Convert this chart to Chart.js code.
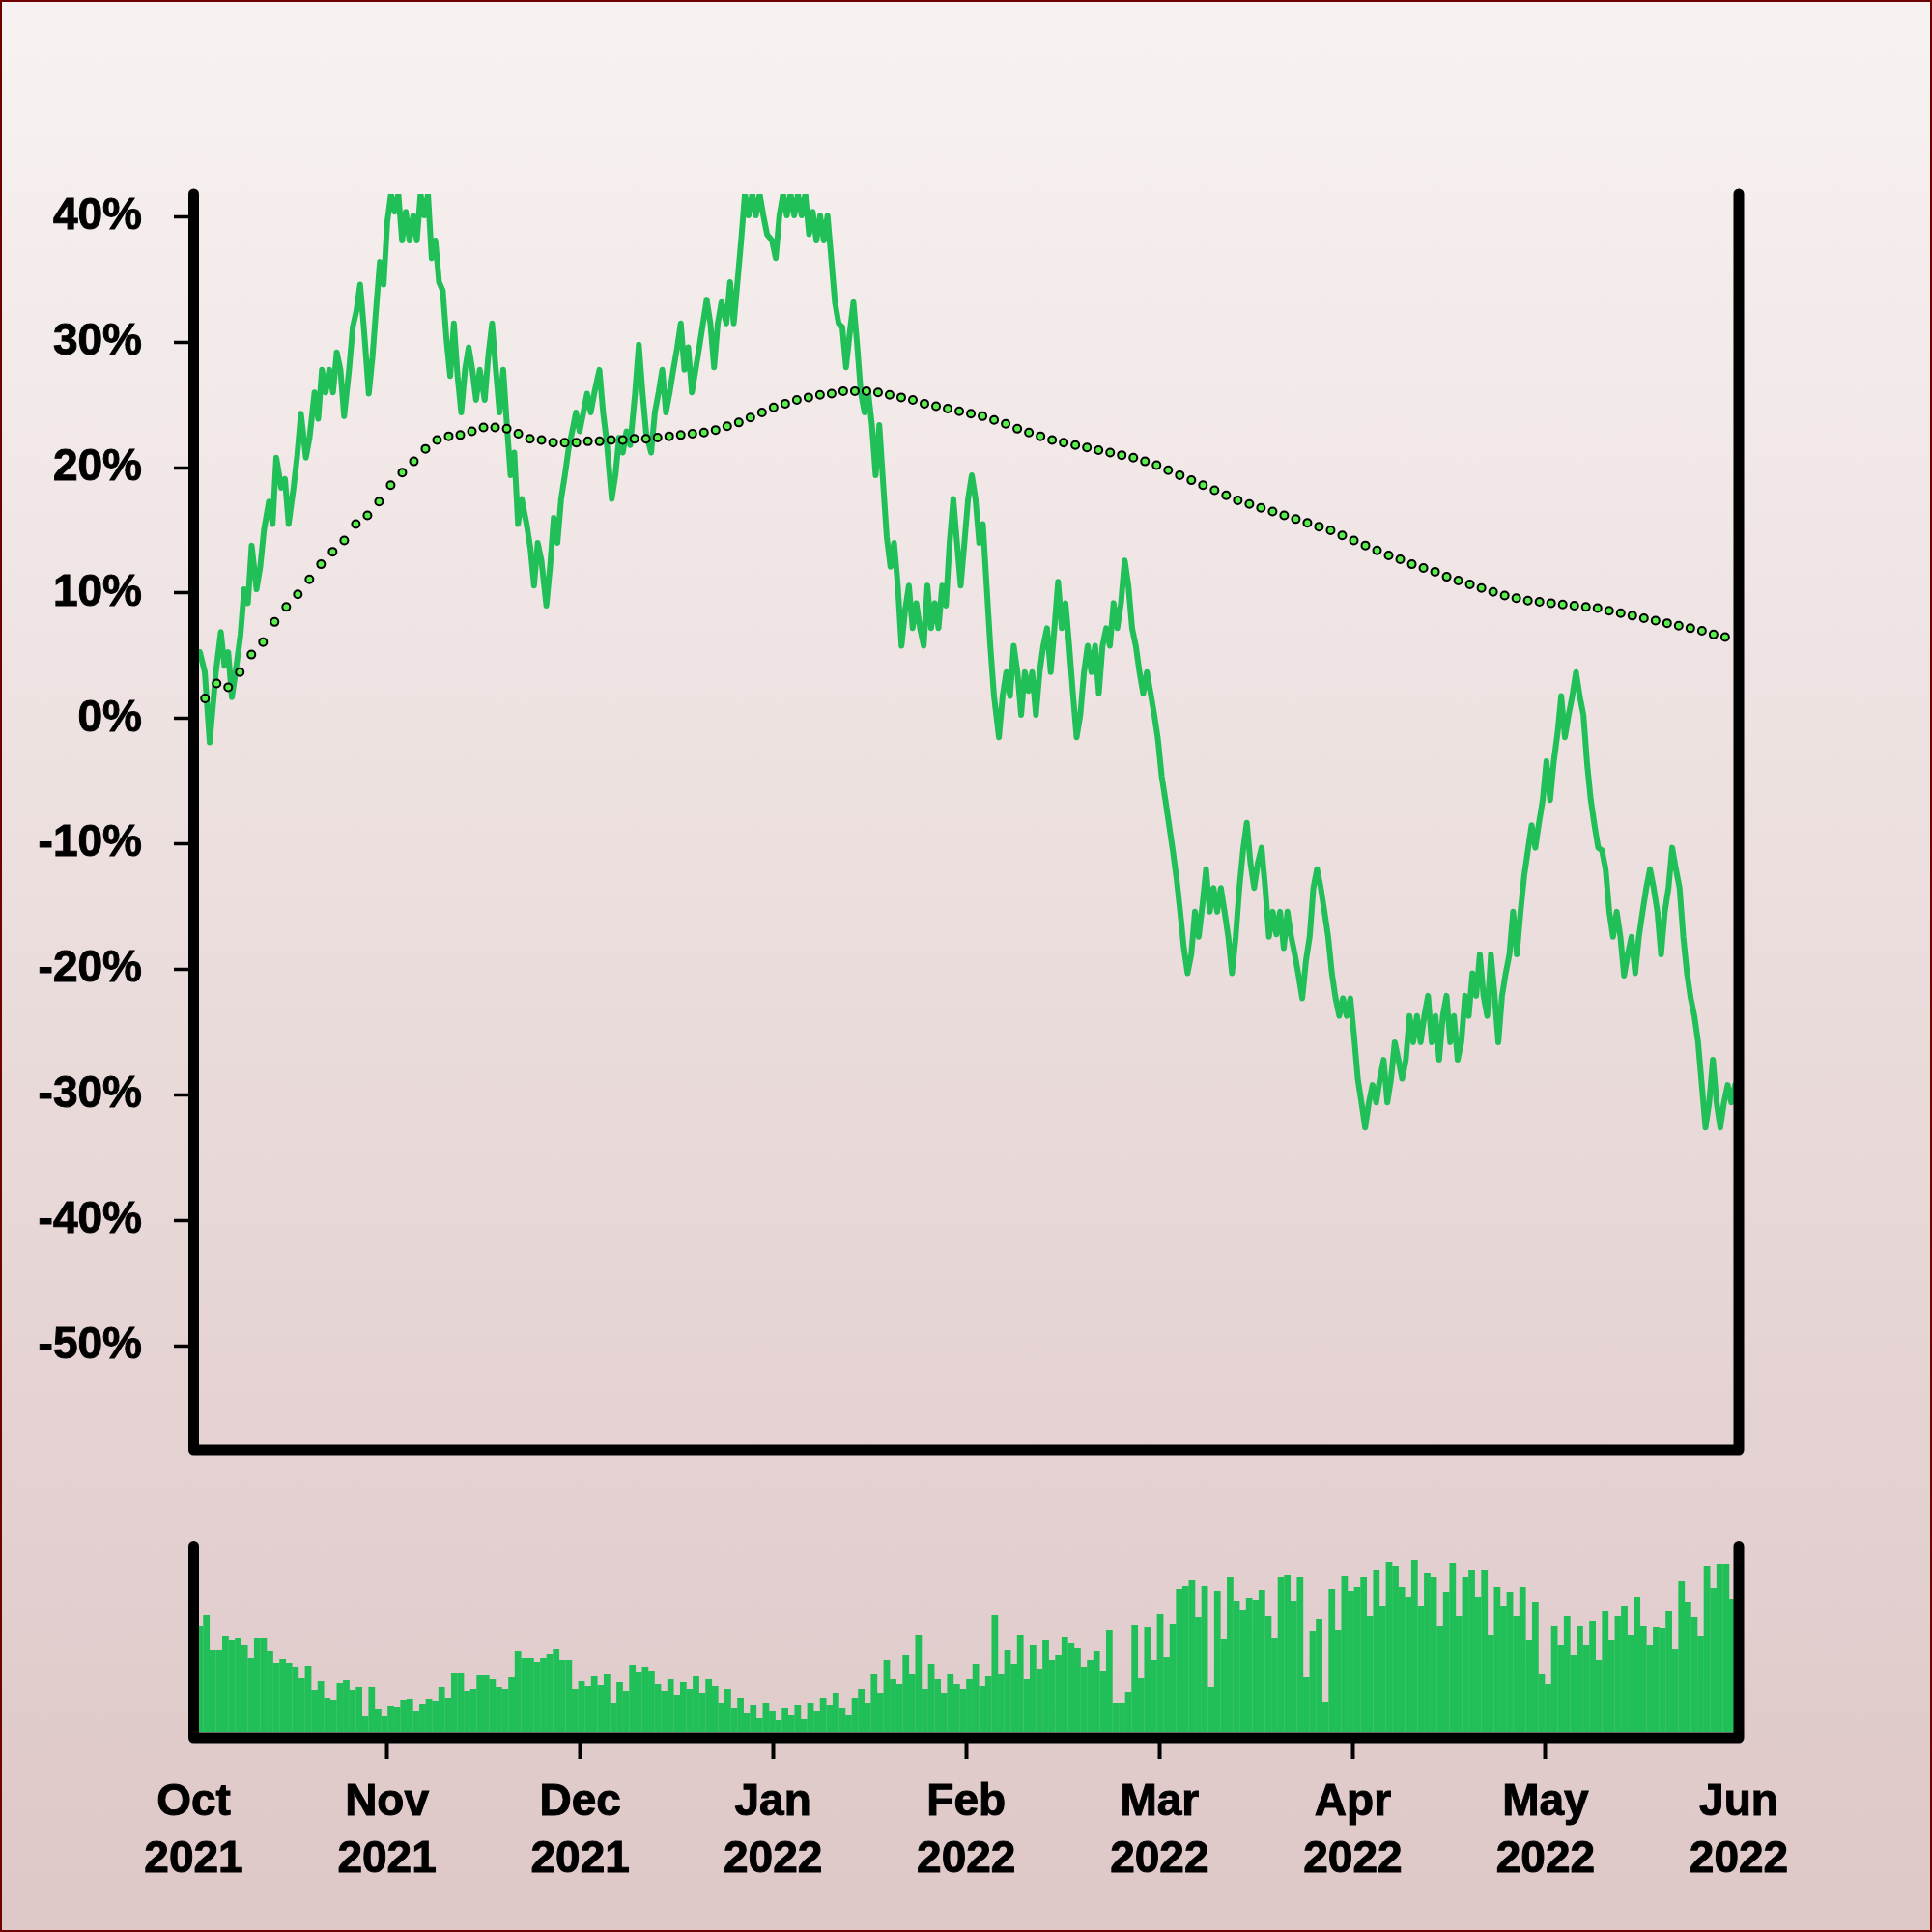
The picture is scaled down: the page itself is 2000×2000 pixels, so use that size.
<!DOCTYPE html>
<html>
<head>
<meta charset="utf-8">
<script src="https://cdn.jsdelivr.net/npm/chart.js@4.4.1/dist/chart.umd.min.js"></script>
<style>
  html, body { margin: 0; padding: 0; }
  #wrap {
    position: relative; width: 2000px; height: 2000px;
    background: linear-gradient(to bottom, #f7f2f1, #dec7c7);
  }
  #wrap canvas { position: absolute; left: 0; top: 0; }
  #frame {
    position: absolute; left: 0; top: 0; width: 2000px; height: 2000px;
    box-sizing: border-box; border: 2px solid #6e0000; pointer-events: none;
  }
</style>
</head>
<body>
<div id="wrap">
  <canvas id="priceChart" width="2000" height="2000"></canvas>
  <canvas id="volChart" width="2000" height="2000"></canvas>
  <div id="frame"></div>
</div>
<script>
// x is in days counted from 1 Oct 2021; axis ticks are evenly spaced
const tickDays = [0, 30.4, 60.8, 91.1, 121.5, 151.9, 182.3, 212.6, 243];
const tickLabels = [['Oct', '2021'], ['Nov', '2021'], ['Dec', '2021'], ['Jan', '2022'],
  ['Feb', '2022'], ['Mar', '2022'], ['Apr', '2022'], ['May', '2022'], ['Jun', '2022']];
const yTicks = [-50, -40, -30, -20, -10, 0, 10, 20, 30, 40];

// days of the return samples: first ones listed, the rest in evenly spaced runs
const lineDaysHead = [
  0.97,1.75,2.52,3.49,4.27,4.85,5.43,6.01,6.59,7.37,
  7.95,8.53,9.12,9.89,10.47,11.05,11.83,12.41,12.99,13.77,
  14.35,14.93,15.71,16.29,16.87,17.65,18.23,19.01,19.59,20.17,
  20.75,21.33,21.91,22.50,23.08,23.66,24.44,25.02,25.60,26.18,
  26.76,27.54,28.12,28.70,29.28,29.87,30.45,31.03,31.61,32.19,
  32.78,33.36,33.94,34.52,35.10,35.68,36.27,36.85,37.43,38.01,
  38.59,39.18,39.76,40.34,40.92,41.50,42.08,42.67,43.25,43.83,
  44.41,44.99,45.77,46.35,46.93,47.52,48.10,48.68,49.26,49.84,
  50.42,51.01,51.59,52.36,52.95,53.53,54.11,54.69,55.47,56.05,
  56.63,57.21,57.79,58.38,58.96,59.54,60.12,60.70,61.29,61.87,
  62.45,63.03,63.81,64.39,64.97,65.75,66.33,66.91,67.49,68.07,
  68.65,69.43,70.01,70.59,71.18,71.95,72.53,73.12,73.70,74.28,
  74.86,75.44,76.02,76.61
];
const lineDayRuns = [[77.19, 11], [83.78, 1], [84.36, 11], [90.96, 1], [91.54, 60], [126.64, 200]];
const runStepDays = 0.5818;

// return in %
const returns = [
  5.3,3.7,-1.9,3.7,6.9,4.2,5.3,1.7,3.7,6.7,
  10.3,9.2,13.8,10.3,12.1,15.0,17.3,15.5,20.8,18.4,
  19.1,15.5,18.4,21.0,24.3,20.8,22.4,26.0,23.9,27.8,
  26.0,27.8,26.0,29.2,27.8,24.1,27.8,31.2,32.5,34.6,
  31.2,25.9,28.8,32.7,36.4,34.6,39.6,41.8,40.4,41.8,
  38.1,40.4,38.1,40.1,38.1,41.8,40.1,41.8,36.7,38.1,
  34.8,34.1,30.2,27.3,31.5,27.3,24.4,27.8,29.6,27.8,
  25.4,27.8,25.4,29.0,31.5,27.8,24.4,27.8,23.4,19.4,
  21.2,15.5,17.5,15.5,13.6,10.6,14.0,12.6,9.0,12.1,
  16.0,14.0,17.5,19.4,21.5,22.9,24.4,22.9,24.4,25.9,
  24.4,26.0,27.8,24.4,22.0,17.5,19.4,22.4,21.2,22.9,
  21.8,26.0,29.8,26.0,22.7,21.2,24.4,26.0,27.8,24.4,
  26.0,27.8,29.5,31.5,27.8,29.6,26.0,27.8,29.6,31.5,
  33.4,31.5,28.0,31.5,33.2,31.5,34.8,31.5,34.8,38.1,
  41.8,40.1,41.8,40.1,41.8,40.1,38.6,38.1,36.7,40.1,
  41.8,40.1,41.8,40.1,41.8,40.1,41.8,38.6,40.4,38.1,
  40.1,38.1,40.1,36.7,33.2,31.5,31.2,28.0,30.7,33.2,
  29.8,26.0,24.4,26.0,23.4,19.4,23.4,18.9,14.5,12.1,
  14.0,10.6,5.8,8.7,10.6,7.2,9.2,7.2,5.8,10.6,
  7.2,9.2,7.2,10.6,9.0,14.0,17.5,14.0,10.6,14.0,
  17.5,19.4,17.5,14.0,15.5,10.6,5.8,1.8,-1.5,1.8,
  3.7,1.8,5.8,3.7,0.3,3.7,2.2,3.7,0.3,3.7,
  5.8,7.2,3.7,7.2,10.9,7.2,9.2,5.8,2.0,-1.5,
  0.3,3.7,5.8,3.7,5.8,2.0,5.8,7.2,5.8,9.2,
  7.2,9.2,12.6,10.6,7.2,5.8,3.7,2.0,3.7,2.0,
  0.3,-1.7,-4.6,-6.5,-8.5,-10.5,-12.7,-15.4,-18.3,-20.3,
  -18.8,-15.4,-17.4,-14.9,-12.0,-15.4,-13.5,-15.4,-13.5,-15.4,
  -17.4,-20.3,-17.4,-13.5,-10.5,-8.3,-11.5,-13.5,-11.5,-10.3,
  -13.5,-17.4,-15.4,-17.2,-15.4,-18.3,-15.4,-17.4,-18.8,-20.5,
  -22.3,-19.3,-17.4,-13.5,-12.0,-13.5,-15.4,-17.4,-20.3,-22.3,
  -23.7,-22.3,-23.7,-22.3,-25.3,-28.7,-30.6,-32.6,-30.6,-29.2,
  -30.6,-28.7,-27.2,-30.6,-28.7,-25.8,-27.2,-28.7,-27.2,-23.7,
  -25.8,-23.7,-25.8,-23.7,-22.1,-25.8,-23.7,-27.2,-23.7,-22.1,
  -25.8,-23.7,-27.2,-25.8,-22.1,-23.7,-20.3,-22.1,-18.8,-22.1,
  -23.7,-18.8,-22.1,-25.8,-22.1,-20.3,-18.8,-15.4,-18.8,-15.4,
  -12.5,-10.5,-8.5,-10.3,-8.3,-6.5,-3.4,-6.5,-3.4,-1.2,
  1.8,-1.5,0.3,1.8,3.7,1.8,0.3,-3.6,-6.5,-8.5,
  -10.3,-10.5,-12.0,-15.4,-17.4,-15.4,-17.4,-20.5,-18.8,-17.4,
  -20.3,-17.4,-15.4,-13.5,-12.0,-13.5,-15.4,-18.8,-15.4,-13.5,
  -10.3,-12.0,-13.5,-17.4,-20.3,-22.3,-23.7,-25.8,-29.2,-32.6,
  -30.6,-27.2,-30.6,-32.6,-30.6,-29.2,-30.6,-29.2
];

// moving average, one dot every maStepDays
const maStartDay = 1.78;
const maStepDays = 1.825;
const movingAvg = [
  1.6,2.8,2.5,3.7,5.1,6.1,7.7,8.9,9.9,11.1,
  12.3,13.3,14.2,15.5,16.2,17.3,18.6,19.6,20.5,21.5,
  22.2,22.5,22.6,22.9,23.2,23.2,23.1,22.7,22.3,22.2,
  22.0,22.0,22.0,22.1,22.1,22.2,22.2,22.3,22.3,22.4,
  22.5,22.6,22.7,22.8,23.0,23.3,23.6,24.0,24.4,24.8,
  25.1,25.4,25.6,25.8,25.9,26.1,26.1,26.1,26.0,25.8,
  25.6,25.4,25.1,24.9,24.7,24.5,24.3,24.1,23.8,23.5,
  23.1,22.8,22.5,22.2,22.0,21.8,21.6,21.4,21.2,21.0,
  20.8,20.5,20.2,19.8,19.4,19.0,18.6,18.2,17.8,17.4,
  17.1,16.8,16.5,16.2,15.9,15.6,15.3,15.0,14.6,14.2,
  13.8,13.4,13.0,12.7,12.3,12.0,11.7,11.3,11.0,10.7,
  10.4,10.1,9.8,9.6,9.4,9.3,9.2,9.1,9.0,8.9,
  8.8,8.6,8.4,8.2,8.0,7.8,7.6,7.4,7.2,7.0,
  6.7,6.5
];

// daily volume, day 1 .. 242 (arbitrary units)
const volume = [
  110,121,85,85,99,95,97,90,77,97,97,84,71,76,71,67,56,68,43,53,35,33,51,54,43,47,17,47,24,17,
  27,26,33,34,22,29,34,32,47,35,61,61,42,45,59,59,55,47,45,57,84,77,77,73,77,81,86,75,75,45,
  53,48,58,49,60,30,52,42,69,62,67,63,
  50,42,55,38,52,45,58,40,55,48,30,45,25,35,20,28,15,30,22,12,25,18,28,14,30,22,35,28,40,25,
  18,35,45,30,60,40,75,55,50,80,60,100,45,70,55,40,60,50,45,55,70,48,58,121,60,85,70,100,55,90,
  65,95,75,80,
  98,92,87,67,75,84,63,106,30,30,41,111,56,109,75,122,78,112,148,151,157,119,151,47,146,96,161,136,126,139,
  137,147,120,97,160,163,136,161,57,105,117,31,148,106,162,146,
  150,160,120,168,130,176,172,150,140,178,130,165,160,110,145,175,120,160,168,140,168,100,150,130,145,120,150,95,135,60,
  50,110,90,120,80,110,90,115,75,125,95,120,130,100,140,110,
  90,109,108,125,86,156,135,119,99,172,149,174,174,138
];

const lineDays = lineDaysHead.concat(
  ...lineDayRuns.map(([start, n]) => Array.from({ length: n }, (_, j) => start + j * runStepDays))
);

const GREEN = '#21bf58';
const DOT = '#58ee4c';

Chart.defaults.font.family = "'Liberation Sans', Arial, Helvetica, sans-serif";
Chart.defaults.font.weight = 'bold';
Chart.defaults.font.size = 46;
Chart.defaults.color = '#000';

// thick black frame on left, bottom and right with round ends
const framePlugin = {
  id: 'frame',
  afterDatasetsDraw(chart) {
    const a = chart.chartArea, ctx = chart.ctx;
    ctx.save();
    ctx.strokeStyle = '#000';
    ctx.lineWidth = 11;
    ctx.lineCap = 'round';
    ctx.lineJoin = 'round';
    ctx.beginPath();
    ctx.moveTo(a.left, a.top);
    ctx.lineTo(a.left, a.bottom);
    ctx.lineTo(a.right, a.bottom);
    ctx.lineTo(a.right, a.top);
    ctx.stroke();
    ctx.restore();
  }
};

const xMin = tickDays[0], xMax = tickDays[tickDays.length - 1];

new Chart(document.getElementById('priceChart'), {
  type: 'line',
  data: {
    datasets: [{
      data: movingAvg.map((v, i) => ({ x: maStartDay + i * maStepDays, y: v })),
      showLine: false,
      pointRadius: 4,
      pointBorderWidth: 2,
      pointBackgroundColor: DOT,
      pointBorderColor: '#000'
    }, {
      data: returns.map((v, i) => ({ x: lineDays[i], y: v })),
      borderColor: GREEN,
      borderWidth: 6,
      borderJoinStyle: 'round',
      borderCapStyle: 'round',
      pointRadius: 0,
      tension: 0
    }]
  },
  options: {
    responsive: false,
    animation: false,
    devicePixelRatio: 1,
    layout: { padding: { top: 201, right: 200, bottom: 499, left: 0 } },
    plugins: { legend: { display: false }, tooltip: { enabled: false } },
    scales: {
      x: { type: 'linear', min: xMin, max: xMax, display: false },
      y: {
        min: -58.3, max: 41.8,
        afterFit(s) { s.width = 200.5; },
        afterBuildTicks(s) { s.ticks = yTicks.map(v => ({ value: v })); },
        border: { display: false },
        grid: { drawOnChartArea: false, tickLength: 20.5, tickWidth: 3.5, color: '#000' },
        ticks: { padding: 33, textStrokeWidth: 1, textStrokeColor: '#000', callback: v => v + '%' }
      }
    }
  },
  plugins: [framePlugin]
});

const lastTick = tickDays.length - 1;

new Chart(document.getElementById('volChart'), {
  type: 'bar',
  data: {
    datasets: [{
      data: volume.map((v, i) => ({ x: i + 1, y: v })),
      backgroundColor: GREEN,
      borderWidth: 0,
      barPercentage: 1.03,
      categoryPercentage: 1
    }]
  },
  options: {
    responsive: false,
    animation: false,
    devicePixelRatio: 1,
    layout: { padding: { top: 1600.5, right: 200, bottom: 0, left: 200.5 } },
    plugins: { legend: { display: false }, tooltip: { enabled: false } },
    scales: {
      x: {
        type: 'linear', min: xMin, max: xMax, offset: false,
        afterFit(s) { s.height = 201; },
        afterBuildTicks(s) { s.ticks = tickDays.map(v => ({ value: v })); },
        border: { display: false },
        grid: {
          offset: false, drawOnChartArea: false, tickLength: 22, tickWidth: 4,
          tickColor: c => (c.index === 0 || c.index === lastTick) ? 'rgba(0,0,0,0)' : '#000'
        },
        ticks: {
          padding: 15,
          maxRotation: 0,
          autoSkip: false,
          textStrokeWidth: 1,
          textStrokeColor: '#000',
          font: { lineHeight: 1.3 },
          callback: (v, i) => tickLabels[i]
        }
      },
      y: { min: -6, max: 192.5, display: false }
    }
  },
  plugins: [framePlugin]
});
</script>
</body>
</html>
